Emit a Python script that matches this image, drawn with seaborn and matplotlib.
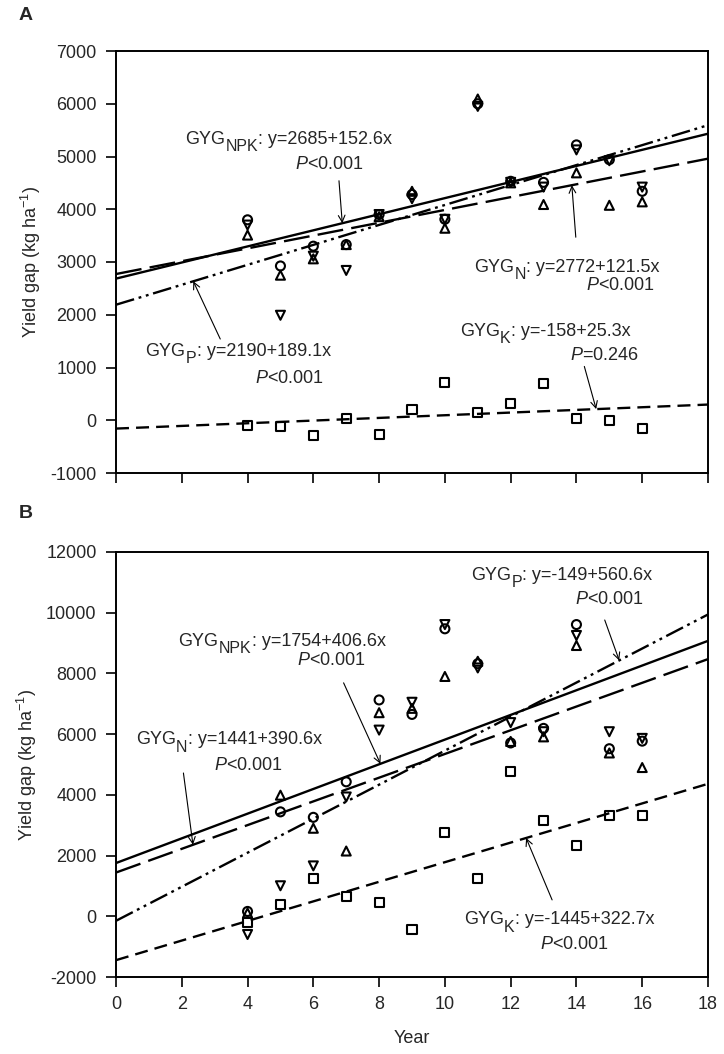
import numpy as np
import pandas as pd
import matplotlib
matplotlib.use("Agg")
import matplotlib.pyplot as plt
import seaborn as sns

# years with observations
years = [4, 5, 6, 7, 8, 9, 10, 11, 12, 13, 14, 15, 16]

# panel A, yield gap (kg/ha)
a_circle = [3800, 2925, 3300, 3330, 3900, 4280, 3810, 6000, 4530, 4510, 5220, 4940, 4340]
a_down = [3700, 1990, 3110, 2840, 3900, 4200, 3810, 5950, 4510, 4420, 5125, 4920, 4420]
a_up = [3510, 2750, 3060, 3330, 3860, 4340, 3640, 6090, 4500, 4090, 4690, 4075, 4140]
a_square = [-95, -120, -280, 32, -272, 209, 715, 146, 310, 690, 38, -6, -152]

# panel B
b_circle = [160, 3440, 3260, 4430, 7127, 6650, 9470, 8320, 5710, 6190, 9610, 5520, 5770]
b_down = [-600, 1005, 1660, 3930, 6133, 7050, 9610, 8180, 6380, 6080, 9250, 6080, 5860]
b_up = [110, 3990, 2900, 2150, 6707, 6850, 7900, 8400, 5760, 5910, 8920, 5380, 4900]
b_square = [-220, 380, 1235, 655, 460, -440, 2765, 1260, 4780, 3170, 2320, 3330, 3330]

# regression lines (intercept, slope)
a_fits = {"NPK": (2685, 152.6), "N": (2772, 121.5), "P": (2190, 189.1), "K": (-158, 25.3)}
b_fits = {"NPK": (1754, 406.6), "N": (1441, 390.6), "P": (-149, 560.6), "K": (-1445, 322.7)}

sns.set_style("ticks")
plt.rcParams["font.family"] = ["Liberation Sans", "DejaVu Sans"]
plt.rcParams["mathtext.fontset"] = "custom"
plt.rcParams["mathtext.rm"] = "Liberation Sans"
plt.rcParams["mathtext.it"] = "Liberation Sans:italic"
plt.rcParams["axes.linewidth"] = 1.4
plt.rcParams["axes.unicode_minus"] = False

line_styles = {
    "NPK": "-",
    "N": (0, (11, 3.5)),
    "P": (0, (8, 2, 1.2, 2, 1.2, 2)),
    "K": (0, (5.5, 3)),
}
markers = ["o", "v", "^", "s"]

fig = plt.figure(figsize=(7.24, 10.54), dpi=100)
axA = fig.add_axes([116 / 724, 1 - 473 / 1054, 592 / 724, 422 / 1054])
axB = fig.add_axes([116 / 724, 1 - 977 / 1054, 592 / 724, 425 / 1054])


def draw_panel(ax, series, fits):
    xs = np.array([0, 18])
    for name, (b0, b1) in fits.items():
        sns.lineplot(x=xs, y=b0 + b1 * xs, ax=ax, color="black", lw=1.7,
                     linestyle=line_styles[name], legend=False)
    for m, vals in zip(markers, series):
        sns.scatterplot(x=years, y=vals, ax=ax, marker=m, s=42,
                        facecolor="none", edgecolor="black", linewidth=1.5,
                        zorder=3, legend=False)
    ax.set_xlim(0, 18)
    ax.set_xticks(range(0, 19, 2))
    ax.tick_params(direction="out", length=7, width=1.4, labelsize=13, pad=7,
                   top=False, right=False)
    for sp in ax.spines.values():
        sp.set_visible(True)
        sp.set_color("black")
    ax.set_ylabel("Yield gap (kg ha$^{-1}$)", fontsize=13, labelpad=5)


draw_panel(axA, [a_circle, a_down, a_up, a_square], a_fits)
axA.set_ylim(-1000, 7000)
axA.set_yticks(range(-1000, 7001, 1000))
axA.set_xticklabels([])
axA.set_xlabel("")

draw_panel(axB, [b_circle, b_down, b_up, b_square], b_fits)
axB.set_ylim(-2000, 12000)
axB.set_yticks(range(-2000, 12001, 2000))
axB.set_xlabel("Year", fontsize=13, labelpad=12)

arrow = dict(arrowstyle="->", lw=0.8, color="black", shrinkA=0, shrinkB=0,
             mutation_scale=12)
fs = 13


def label(ax, name, fits, eq_xy, p_xy, p_text, tail, tip_x):
    b0, b1 = fits[name]
    # "GYG" + lowered subscript + equation, chained so the subscript stays large
    t1 = ax.text(eq_xy[0], eq_xy[1], "GYG", fontsize=fs, va="center", ha="left")
    t2 = ax.annotate(name, xy=(1, 0), xycoords=t1, xytext=(0.3, -4.5),
                     textcoords="offset points", fontsize=11.5, va="bottom", ha="left")
    ax.annotate(": y=%d+%.1fx" % (b0, b1), xy=(1, 0), xycoords=(t2, t1),
                fontsize=fs, va="bottom", ha="left")
    ax.text(p_xy[0], p_xy[1], "$\\mathit{P}$" + p_text, fontsize=fs, va="center", ha="left")
    ax.annotate("", xy=(tip_x, b0 + b1 * tip_x), xytext=tail, arrowprops=arrow)


label(axA, "NPK", a_fits, (2.1, 5330), (5.45, 4850), "<0.001", (6.78, 4540), 6.88)
label(axA, "N", a_fits, (10.9, 2900), (14.3, 2560), "<0.001", (13.98, 3470), 13.86)
label(axA, "P", a_fits, (0.9, 1300), (4.24, 790), "<0.001", (3.17, 1540), 2.35)
label(axA, "K", a_fits, (10.45, 1680), (13.8, 1230), "=0.246", (14.24, 1020), 14.6)

label(axB, "P", b_fits, (10.8, 11240), (13.95, 10420), "<0.001", (14.86, 9760), 15.3)
label(axB, "NPK", b_fits, (1.9, 9050), (5.5, 8440), "<0.001", (6.92, 7690), 8.04)
label(axB, "N", b_fits, (0.6, 5810), (2.97, 4980), "<0.001", (2.05, 4720), 2.34)
label(axB, "K", b_fits, (10.57, -120), (12.9, -940), "<0.001", (13.26, 540), 12.47)

fig.text(19 / 724, 1 - 16 / 1054, "A", fontsize=14, fontweight="bold", va="center", ha="left")
fig.text(19 / 724, 1 - 513 / 1054, "B", fontsize=14, fontweight="bold", va="center", ha="left")

fig.savefig("out.png", dpi=100, facecolor="white")
